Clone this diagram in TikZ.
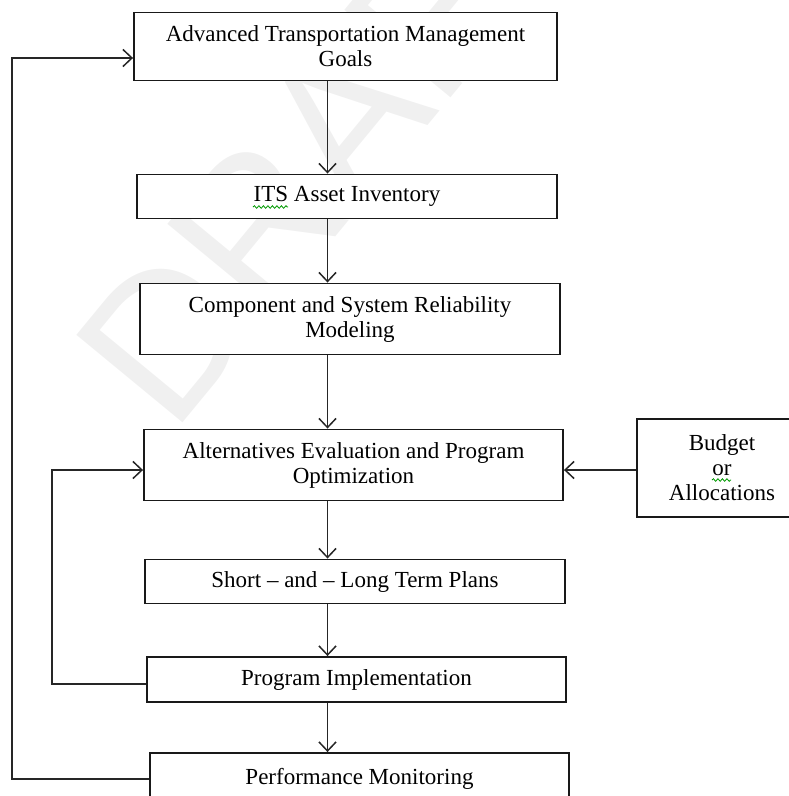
\documentclass[tikz,border=0pt]{standalone}
\usepackage{fontspec}
\setmainfont{Liberation Serif}
\newfontfamily\wmfont{Liberation Sans}
\usetikzlibrary{arrows.meta,decorations.pathmorphing}
\newcommand\boxfont{\fontsize{23}{25}\selectfont}
\begin{document}
\begin{tikzpicture}[x=1pt,y=-1pt,
  box/.style={draw=black!90, line width=1.9pt, fill=white, inner sep=0pt,
              align=center, font=\boxfont},
  arr/.style={draw=black!85, line width=1.5pt,
              -{Straight Barb[length=9pt,width=17pt,line width=1.5pt]}},
  squig/.style={draw=green!60!black, line width=0.8pt,
                decorate, decoration={snake, amplitude=1.3pt, segment length=4.5pt}},
  wm/.style={text=black!6, font=\wmfont\fontsize{200}{200}\selectfont, inner sep=0pt}]
\useasboundingbox (0,0) rectangle (789,796);
\clip (0,0) rectangle (789,796);
% watermark
\node[wm, rotate=50.5, anchor=base west] (draft) at (172,436) {DRAFT};
% boxes
\node[box, minimum width=423pt, minimum height=68pt] (b1) at (345.5,46.5)
  {Advanced Transportation Management\\Goals};
\node[box, minimum width=420pt, minimum height=44pt] (b2) at (347,196.5)
  {ITS Asset Inventory};
\node[box, minimum width=420pt, minimum height=71pt] (b3) at (350,319)
  {Component and System Reliability\\Modeling};
\node[box, minimum width=419pt, minimum height=71pt] (b4) at (353.5,465)
  {Alternatives Evaluation and Program\\Optimization};
\node[box, minimum width=170pt, minimum height=98pt] (bud) at (722,468)
  {Budget\\or\\Allocations};
\node[box, minimum width=420pt, minimum height=44pt] (b5) at (355,581.5)
  {Short -- and -- Long Term Plans};
\node[box, minimum width=419pt, minimum height=45pt] (b6) at (356.5,679.5)
  {Program Implementation};
\node[box, minimum width=419pt, minimum height=52pt] (b7) at (359.5,779)
  {Performance Monitoring};
% spell-check marks
\coordinate (s1a) at (253,207);
\coordinate (s1b) at (288,207);
\coordinate (s2a) at (712,480);
\coordinate (s2b) at (731,480);
\draw[squig] (s1a) -- (s1b);
\draw[squig] (s2a) -- (s2b);
% helper coordinates
\coordinate (ax) at (327.5,0);
\coordinate (lo) at (12,0);
\coordinate (li) at (52,0);
\coordinate (y1) at (0,58);
\coordinate (y4) at (0,470);
\coordinate (y6) at (0,684);
\coordinate (y7) at (0,779);
% main flow
\draw[arr] (b1.south -| ax) -- (b2.north -| ax);
\draw[arr] (b2.south -| ax) -- (b3.north -| ax);
\draw[arr] (b3.south -| ax) -- (b4.north -| ax);
\draw[arr] (b4.south -| ax) -- (b5.north -| ax);
\draw[arr] (b5.south -| ax) -- (b6.north -| ax);
\draw[arr] (b6.south -| ax) -- (b7.north -| ax);
% budget input
\draw[arr] (bud.west |- y4) -- (b4.east |- y4);
% feedback loops
\draw[arr] (b6.west |- y6) -- (li |- y6) -- (li |- y4) -- (b4.west |- y4);
\draw[arr] (b7.west |- y7) -- (lo |- y7) -- (lo |- y1) -- (b1.west |- y1);
\end{tikzpicture}
\end{document}
